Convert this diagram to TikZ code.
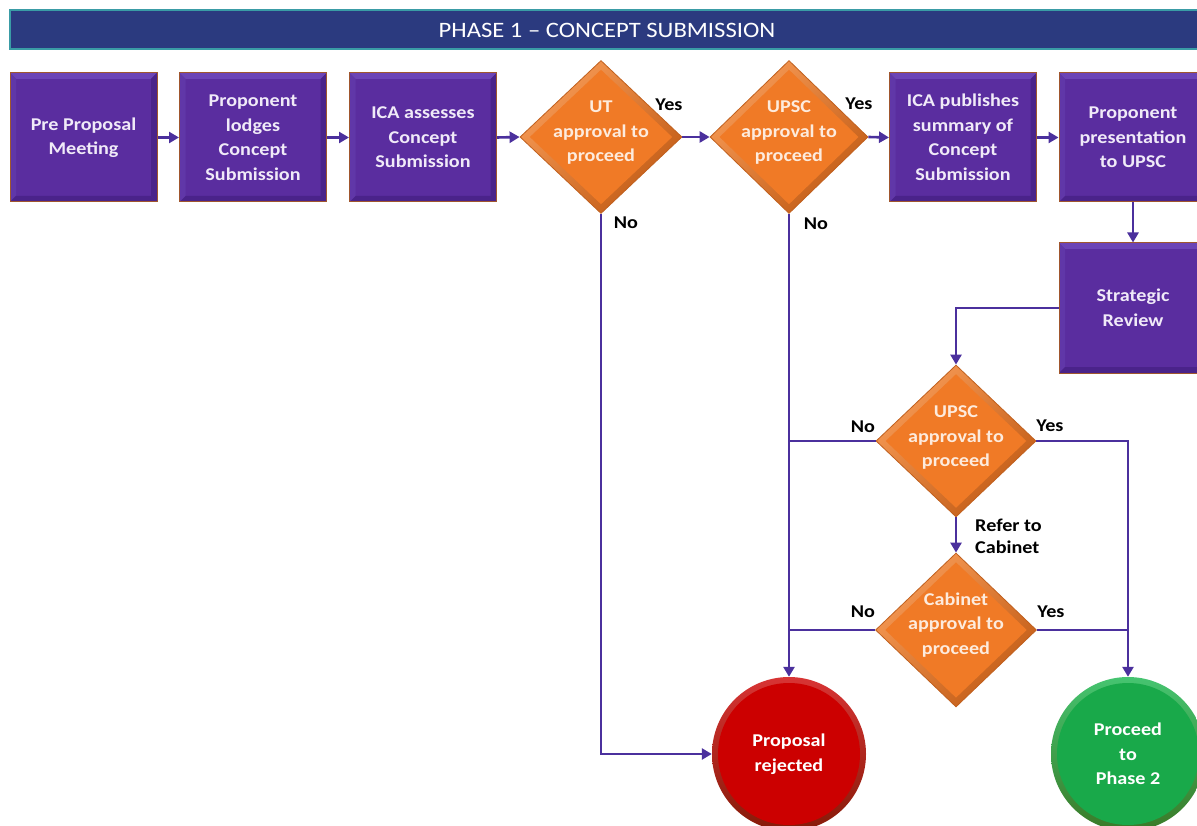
\documentclass[tikz,border=0pt]{standalone}
\usepackage{fontspec}
\setmainfont{Carlito}[FakeStretch=1.12]
\usetikzlibrary{shapes.geometric,arrows.meta,calc}
\definecolor{hdrc}{HTML}{2B3A7F}
\definecolor{hdredge}{HTML}{3A9CA6}
\definecolor{boxfill}{HTML}{5A2D9F}
\definecolor{boxlight}{HTML}{6C44B6}
\definecolor{boxmid}{HTML}{6037A8}
\definecolor{boxdark}{HTML}{4A238A}
\definecolor{boxedge}{HTML}{A0562E}
\definecolor{boxtext}{HTML}{F0EAF8}
\definecolor{dfill}{HTML}{F07A26}
\definecolor{dlight}{HTML}{F79A55}
\definecolor{ddark}{HTML}{C25C16}
\definecolor{dedge}{HTML}{C0601E}
\definecolor{dtextc}{HTML}{FDEBDD}
\definecolor{redin}{HTML}{CC0000}
\definecolor{redlight}{HTML}{D83434}
\definecolor{reddark}{HTML}{861A08}
\definecolor{grnin}{HTML}{19A94A}
\definecolor{grnlight}{HTML}{45C470}
\definecolor{grndark}{HTML}{3A7A28}
\definecolor{linec}{HTML}{4B309D}
\begin{document}
\begin{tikzpicture}[x=1pt,y=-1pt,
  txt/.style={font=\fontsize{18}{24.5}\selectfont\bfseries},
  procbox/.style={rectangle, minimum width=147pt, minimum height=129pt, inner sep=0pt,
    fill=boxfill, draw=boxedge, line width=1pt, align=center, text=boxtext, txt,
    path picture={
      \fill[boxlight] (path picture bounding box.north west) -- (path picture bounding box.north east)
        -- ([shift={(-6pt,-6pt)}]path picture bounding box.north east) -- ([shift={(6pt,-6pt)}]path picture bounding box.north west) -- cycle;
      \fill[boxmid] (path picture bounding box.north west) -- ([shift={(6pt,-6pt)}]path picture bounding box.north west)
        -- ([shift={(6pt,6pt)}]path picture bounding box.south west) -- (path picture bounding box.south west) -- cycle;
      \fill[boxdark] (path picture bounding box.north east) -- ([shift={(-6pt,-6pt)}]path picture bounding box.north east)
        -- ([shift={(-6pt,6pt)}]path picture bounding box.south east) -- (path picture bounding box.south east) -- cycle;
      \fill[boxdark] (path picture bounding box.south west) -- (path picture bounding box.south east)
        -- ([shift={(-6pt,6pt)}]path picture bounding box.south east) -- ([shift={(6pt,6pt)}]path picture bounding box.south west) -- cycle;
    }},
  dia/.style={diamond, inner sep=0pt, draw=dedge, line width=0.8pt,
    top color=dlight, bottom color=ddark, shading angle=45,
    path picture={
      \fill[dfill] ($(path picture bounding box.north)!0.06!(path picture bounding box.south)$)
        -- ($(path picture bounding box.east)!0.06!(path picture bounding box.west)$)
        -- ($(path picture bounding box.south)!0.06!(path picture bounding box.north)$)
        -- ($(path picture bounding box.west)!0.06!(path picture bounding box.east)$) -- cycle;
    }},
  dtext/.style={align=center, text=dtextc, txt},
  endc/.style n args={3}{circle, minimum size=154pt, inner sep=0pt, align=center, txt,
    text=white, top color=#1, bottom color=#2,
    path picture={\fill[#3] (path picture bounding box.center) circle (71pt);}},
  lab/.style={font=\fontsize{18}{22}\selectfont\bfseries, text=black, align=left},
  conn/.style={draw=linec, line width=2.6pt, -{Triangle[length=10pt,width=11pt]}},
  plainline/.style={draw=linec, line width=2.6pt}
]
\useasboundingbox (0,0) rectangle (1197,826);
\clip (0,0) rectangle (1197,826);
\fill[white] (0,0) rectangle (1197,826);

% header
\node[rectangle, minimum width=1190pt, minimum height=39pt, inner sep=0pt, fill=hdrc,
  draw=hdredge, line width=1.2pt] (hdr) at (605,29.5) {};
\node[text=white, font=\fontsize{22}{26}\selectfont] (hdrt) at (607,30) {PHASE 1 – CONCEPT SUBMISSION};

% process boxes
\node[procbox] (b1) at (83.5,137.5) {Pre Proposal\\Meeting};
\node[procbox] (b2) at (253,137.5) {Proponent\\lodges\\Concept\\Submission};
\node[procbox] (b3) at (423,137.5) {ICA assesses\\Concept\\Submission};
\node[procbox] (b4) at (963,137.5) {ICA publishes\\summary of\\Concept\\Submission};
\node[procbox, minimum width=148pt] (b5) at (1133,137.5) {Proponent\\presentation\\to UPSC};
\node[procbox, minimum width=148pt, minimum height=130pt] (b6) at (1133,308) {Strategic\\Review};

% decisions
\node[dia, minimum width=162pt, minimum height=153pt] (d1) at (601,137) {};
\node[dtext] (d1t) at (601,133) {UT\\approval to\\proceed};
\node[dia, minimum width=158pt, minimum height=153pt] (d2) at (789,137) {};
\node[dtext] (d2t) at (789,133) {UPSC\\approval to\\proceed};
\node[dia, minimum width=160pt, minimum height=152pt] (d3) at (956,441) {};
\node[dtext] (d3t) at (956,438) {UPSC\\approval to\\proceed};
\node[dia, minimum width=161pt, minimum height=154pt] (d4) at (956,630) {};
\node[dtext] (d4t) at (956,625) {Cabinet\\approval to\\proceed};

% end states
\node[endc={redlight}{reddark}{redin}] (rej) at (789,754) {Proposal\\rejected};
\node[endc={grnlight}{grndark}{grnin}] (pro) at (1128,754) {Proceed\\to\\Phase 2};

% connectors
\draw[conn] (b1.east) -- (b2.west);
\draw[conn] (b2.east) -- (b3.west);
\draw[conn] (b3.east) -- (d1.west);
\draw[conn] (d1.east) -- (d2.west);
\draw[conn] (d2.east) -- (b4.west);
\draw[conn] (b4.east) -- (b5.west);
\draw[conn] (b5.south) -- (b6.north);
\draw[conn] (b6.west) -| (d3.north);
\draw[conn] (d3.south) -- (d4.north);
\draw[conn] (d1.south) |- (rej.west);
\draw[conn] (d2.south) -- (rej.north);
\draw[plainline] (d3.west) -- (d3.west -| rej.north);
\draw[plainline] (d4.west) -- (d4.west -| rej.north);
\draw[conn] (d3.east) -| (pro.north);
\draw[plainline] (d4.east) -- (d4.east -| pro.north);

% labels
\node[lab] (l1) at (669,105) {Yes};
\node[lab] (l2) at (626,223) {No};
\node[lab] (l3) at (859,104) {Yes};
\node[lab] (l4) at (816,224) {No};
\node[lab] (l5) at (863,427) {No};
\node[lab] (l6) at (1050,426) {Yes};
\node[lab] (l7) at (863,612) {No};
\node[lab] (l8) at (1051,612) {Yes};
\node[lab, anchor=west, inner sep=0pt] (l9) at (975,536) {Refer to\\Cabinet};
\end{tikzpicture}
\end{document}
